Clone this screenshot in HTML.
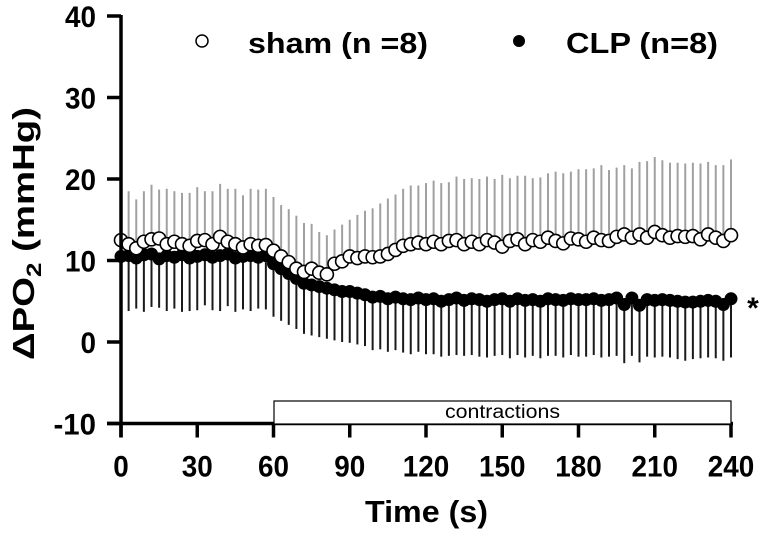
<!DOCTYPE html>
<html><head><meta charset="utf-8"><style>
html,body{margin:0;padding:0;background:#fff;}
svg{display:block;font-family:"Liberation Sans",Arial,sans-serif;}
</style></head><body>
<svg id="chart" width="764" height="537" viewBox="0 0 764 537" xmlns="http://www.w3.org/2000/svg">
<g id="bars"></g>
<g id="clp"></g>
<g id="sham"></g>
<g id="axes"></g>
<rect x="274" y="401" width="457" height="23" fill="#fff" stroke="#000" stroke-width="1.2"/>
<text x="445" y="418" font-size="19" textLength="115" lengthAdjust="spacingAndGlyphs">contractions</text>
<circle cx="202" cy="41" r="6" fill="#fff" stroke="#000" stroke-width="1.5"/>
<text x="248" y="53" font-size="29" font-weight="bold" textLength="180" lengthAdjust="spacingAndGlyphs">sham (n =8)</text>
<circle cx="519" cy="41" r="6" fill="#000"/>
<text x="566" y="53" font-size="29" font-weight="bold" textLength="152" lengthAdjust="spacingAndGlyphs">CLP (n=8)</text>
<text x="753" y="318" font-size="30" font-weight="bold" text-anchor="middle">*</text>
<text x="365" y="522" font-size="31" font-weight="bold" textLength="123" lengthAdjust="spacingAndGlyphs">Time (s)</text>
<text transform="translate(34,360) rotate(-90)" font-size="31" font-weight="bold" textLength="253" lengthAdjust="spacingAndGlyphs">ΔPO<tspan font-size="21" dy="7">2</tspan><tspan dy="-7"> (mmHg)</tspan></text>
</svg>
<script>
const times = [];
for (let t = 0; t <= 240; t += 3) times.push(t);
const shamMean = [12.5,12.0,11.5,12.3,12.6,12.7,12.0,12.3,12.0,11.8,12.4,12.5,12.0,12.9,12.3,12.0,11.6,12.0,11.8,11.9,11.2,10.5,9.8,9.0,8.6,9.0,8.5,8.3,9.6,9.9,10.5,10.3,10.5,10.4,10.5,10.8,11.3,11.8,12.0,12.2,12.0,12.3,12.0,12.4,12.5,12.0,12.3,12.0,12.5,12.2,11.7,12.4,12.6,12.0,12.5,12.3,12.8,12.4,12.1,12.7,12.6,12.3,12.8,12.5,12.4,12.9,13.2,12.8,13.2,12.8,13.5,13.1,12.8,13.0,12.9,13.0,12.6,13.2,12.8,12.4,13.1];
const shamSD = [5.8,6.5,6.0,6.2,6.7,6.0,6.8,6.2,6.3,6.5,6.6,6.0,6.5,6.5,6.5,6.8,6.4,6.8,6.9,6.9,6.6,6.3,6.5,6.5,6.0,5.5,5.0,4.8,4.2,4.5,4.5,5.3,5.6,6.0,6.5,6.8,6.8,7.0,7.2,7.0,7.5,7.5,7.5,7.2,7.8,8.0,7.8,8.0,7.8,7.8,8.8,7.7,7.8,8.4,7.6,7.9,7.9,8.5,8.6,8.2,8.6,8.9,8.5,9.2,8.7,8.5,8.5,8.5,8.9,9.4,9.2,9.2,9.2,9.0,9.0,9.0,9.3,8.9,8.9,9.3,9.3];
const clpMean = [10.5,10.6,10.3,10.7,10.8,10.2,10.6,10.4,10.7,10.3,10.5,10.7,10.4,10.6,10.8,10.3,10.5,10.6,10.4,10.6,9.6,9.0,8.4,7.8,7.2,7.0,6.8,6.6,6.4,6.2,6.2,6.0,5.8,5.5,5.6,5.3,5.5,5.3,5.2,5.4,5.2,5.3,5.0,5.2,5.4,5.1,5.3,5.2,5.0,5.2,5.3,5.0,5.3,5.1,5.2,5.0,5.3,5.2,5.1,5.3,5.2,5.2,5.3,5.1,5.2,5.4,4.6,5.4,4.5,5.2,5.1,5.2,5.1,5.0,4.9,4.9,5.0,5.1,5.0,4.6,5.3];
const clpSD = [6.5,6.8,6.2,7.0,6.5,6.0,6.8,6.3,7.0,6.5,6.6,6.2,6.5,6.8,6.4,6.6,6.5,6.8,6.3,6.6,6.5,6.4,6.3,6.2,6.2,6.2,6.2,6.2,6.2,6.2,6.3,6.3,6.3,6.5,6.5,6.5,6.5,6.6,6.7,6.6,6.7,6.8,6.8,6.9,7.0,6.8,6.9,7.0,6.9,6.9,6.9,7.0,6.9,7.0,6.9,7.0,7.0,6.9,7.0,6.9,7.0,7.0,6.9,7.0,7.0,7.1,7.2,7.1,7.0,7.0,7.0,7.0,7.0,7.1,7.2,7.0,7.0,7.0,7.0,6.9,7.2];
const xTicks = [0,30,60,90,120,150,180,210,240];
const yTicks = [-10,0,10,20,30,40];

const NS = "http://www.w3.org/2000/svg";
const X0 = 121, X1 = 731;
function xs(t){ return X0 + (t/240)*(X1-X0); }
function ys(v){ return 342 - 8.15*v; }
function mk(tag, attrs, parent){
  const e = document.createElementNS(NS, tag);
  for (const k in attrs) e.setAttribute(k, attrs[k]);
  parent.appendChild(e); return e;
}
const bars = document.getElementById('bars');
const shamG = document.getElementById('sham');
const clpG = document.getElementById('clp');
const axes = document.getElementById('axes');
times.forEach((t,i)=>{
  const x = xs(t);
  const b1 = mk('line',{x1:x,x2:x,y1:ys(shamMean[i]),y2:ys(shamMean[i]+shamSD[i]),stroke:'#a0a0a0','stroke-width':2},bars);
  
  
  const b2 = mk('line',{x1:x,x2:x,y1:ys(clpMean[i]),y2:ys(clpMean[i]-clpSD[i]),stroke:'#1a1a1a','stroke-width':2},bars);
  
  
  const c = mk('circle',{cx:x,cy:ys(clpMean[i]),r:6.5,fill:'#000'},clpG);
  
  
});
times.forEach((t,i)=>{
  const s = mk('circle',{cx:xs(t),cy:ys(shamMean[i]),r:6.5,fill:'#fff',stroke:'#000','stroke-width':1.6},shamG);
  
  
});
const ya = mk('line',{x1:X0,x2:X0,y1:ys(40)-1,y2:ys(-10)+14,stroke:'#000','stroke-width':3.5},axes);


const xa = mk('line',{x1:X0-14,x2:X1+2,y1:ys(-10),y2:ys(-10),stroke:'#000','stroke-width':3.5},axes);


yTicks.forEach(v=>{
  const l = mk('line',{x1:X0-14,x2:X0,y1:ys(v),y2:ys(v),stroke:'#000','stroke-width':3.5},axes);
  
  
  const s = String(v);
  const tx = mk('text',{x:96,y:ys(v)+11,'font-size':30,'font-weight':'bold','text-anchor':'end',textLength:(s.length*15.5 - (v<0?4:0)),lengthAdjust:'spacingAndGlyphs'},axes);
  tx.textContent = s;
  
  
});
xTicks.forEach(t=>{
  const l = mk('line',{x1:xs(t),x2:xs(t),y1:ys(-10),y2:ys(-10)+14,stroke:'#000','stroke-width':3.5},axes);
  
  
  const s = String(t);
  const tx = mk('text',{x:xs(t),y:ys(-10)+53,'font-size':30,'font-weight':'bold','text-anchor':'middle',textLength:s.length*15.5,lengthAdjust:'spacingAndGlyphs'},axes);
  tx.textContent = s;
  
  
});
</script>
</body></html>
